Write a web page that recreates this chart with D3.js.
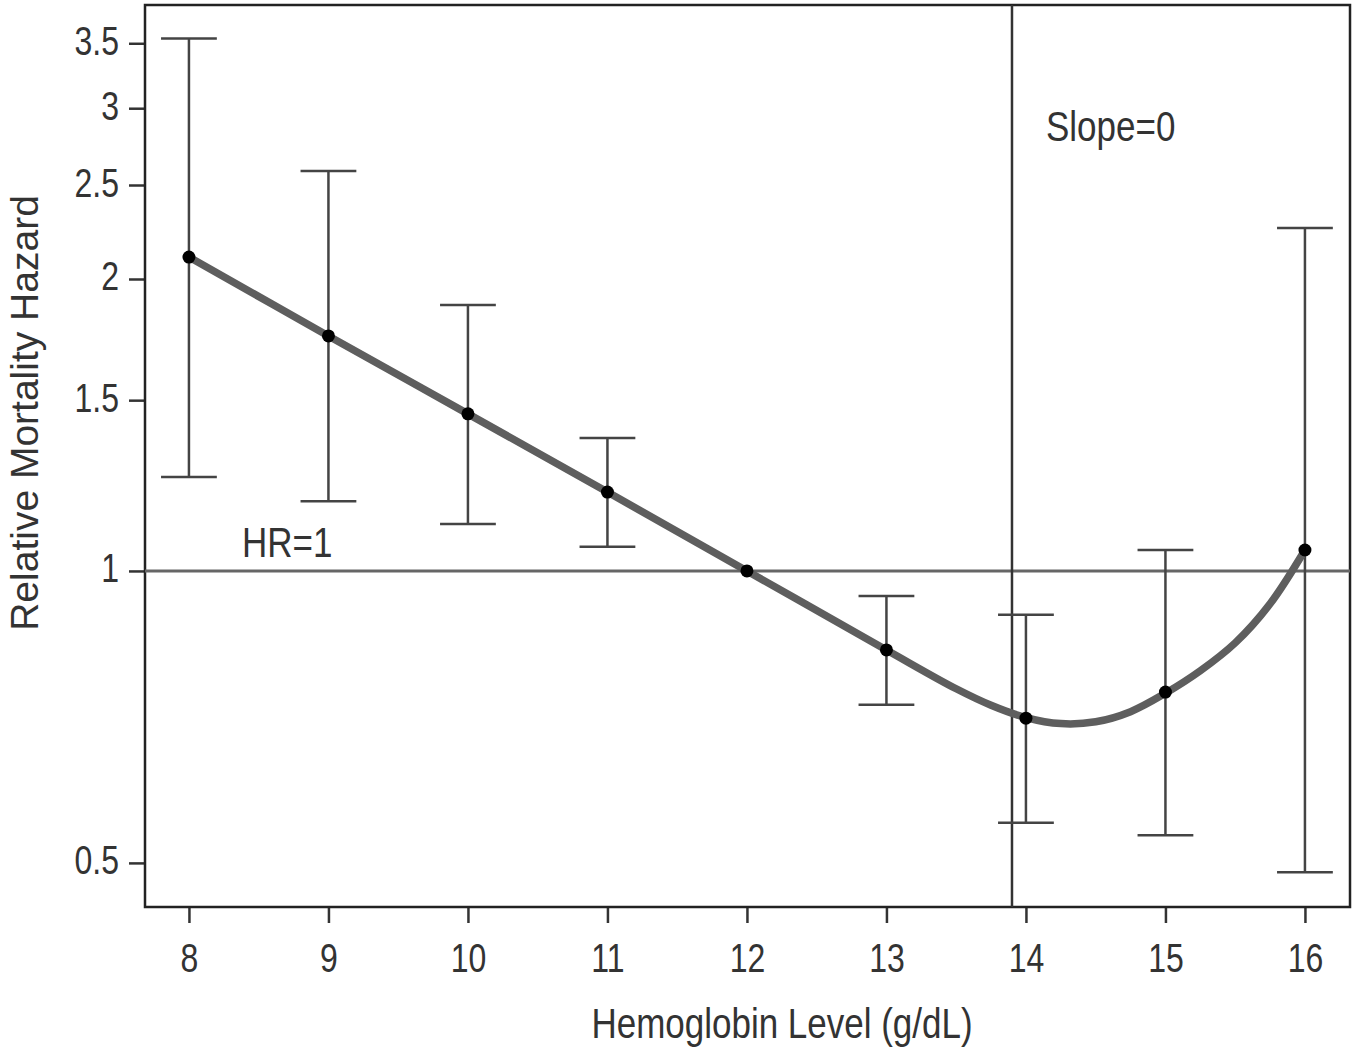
<!DOCTYPE html>
<html><head><meta charset="utf-8">
<script src="https://cdn.jsdelivr.net/npm/d3@7"></script>
<style>body{margin:0;background:#fff}svg{display:block}</style>
</head><body><svg id="c" width="1360" height="1049"></svg>
<script>
const hemoglobin = [8, 9, 10, 11, 12, 13, 14, 15, 16];
const hazard = [2.107, 1.747, 1.452, 1.206, 1.0, 0.829, 0.705, 0.750, 1.051];
const ciLow = [1.25, 1.18, 1.118, 1.059, 1.0, 0.728, 0.55, 0.534, 0.489];
const ciHigh = [3.54, 2.585, 1.88, 1.371, 1.0, 0.942, 0.901, 1.051, 2.258];
const curveX = [8, 9, 10, 11, 12, 13, 13.5, 13.75, 14, 14.25, 14.5, 14.75, 15, 15.25, 15.5, 15.75, 16];
const curveY = [2.107, 1.747, 1.452, 1.206, 1.0, 0.829, 0.756, 0.727, 0.706, 0.696, 0.699, 0.716, 0.748, 0.789, 0.843, 0.925, 1.051];
const xTicks = [8, 9, 10, 11, 12, 13, 14, 15, 16];
const yTicks = [0.5, 1, 1.5, 2, 2.5, 3, 3.5];
const slopeZeroAt = 13.9;
const refHR = 1;

const svg = d3.select("#c");
const L = 145, R = 1350, T = 5, B = 907;
const x = d3.scaleLinear().domain([7.685, 16.323]).range([L, R]);
const y = d3.scaleLog().domain([0.4503, 3.833]).range([B, T]);
const font = "'Liberation Sans', Arial, sans-serif";
const tc = "#333";

// axes
const xa = svg.append("g").attr("transform", `translate(0,${B})`)
  .call(d3.axisBottom(x).tickValues(xTicks).tickSize(16).tickSizeOuter(0).tickFormat(d3.format("d")));
const ya = svg.append("g").attr("transform", `translate(${L},0)`)
  .call(d3.axisLeft(y).tickValues(yTicks).tickSize(16).tickSizeOuter(0).tickFormat(d => String(d)));
[xa, ya].forEach(g => {
  g.select(".domain").remove();
  g.selectAll(".tick line").attr("stroke", "#333").attr("stroke-width", 2.5);
  g.selectAll(".tick text").attr("fill", tc).attr("font-family", font).attr("font-size", 32);
});
xa.selectAll(".tick text").attr("dy", 0).attr("y", 65 / 1.28).attr("transform", "scale(1,1.28)");
ya.selectAll(".tick text").attr("dy", 0).attr("x", -26).attr("y", 11 / 1.28).attr("transform", "scale(1,1.28)");

// frame
svg.append("rect").attr("x", L).attr("y", T).attr("width", R - L).attr("height", B - T)
  .attr("fill", "none").attr("stroke", "#222").attr("stroke-width", 2.5);

// HR=1 line
svg.append("line").attr("x1", L).attr("x2", R).attr("y1", y(refHR)).attr("y2", y(refHR))
  .attr("stroke", "#666").attr("stroke-width", 3);
// slope=0 vertical line
svg.append("line").attr("x1", x(slopeZeroAt)).attr("x2", x(slopeZeroAt)).attr("y1", T).attr("y2", B)
  .attr("stroke", "#333").attr("stroke-width", 2.5);

// error bars
const capHalf = 0.2;
const eb = svg.append("g").attr("stroke", "#444").attr("stroke-width", 2.5);
hemoglobin.forEach((h, i) => {
  if (ciLow[i] === ciHigh[i]) return;
  eb.append("line").attr("x1", x(h)).attr("x2", x(h)).attr("y1", y(ciLow[i])).attr("y2", y(ciHigh[i]));
  eb.append("line").attr("x1", x(h - capHalf)).attr("x2", x(h + capHalf)).attr("y1", y(ciLow[i])).attr("y2", y(ciLow[i]));
  eb.append("line").attr("x1", x(h - capHalf)).attr("x2", x(h + capHalf)).attr("y1", y(ciHigh[i])).attr("y2", y(ciHigh[i]));
});

// curve
const curvePts = curveX.map((v, i) => [v, curveY[i]]);
svg.append("path").datum(curvePts)
  .attr("d", d3.line().x(d => x(d[0])).y(d => y(d[1])).curve(d3.curveCatmullRom.alpha(0.5)))
  .attr("fill", "none").attr("stroke", "#5e5e5e").attr("stroke-width", 7.5).attr("stroke-linecap", "round");

// points
svg.append("g").selectAll("circle").data(hemoglobin).join("circle")
  .attr("cx", d => x(d)).attr("cy", (d, i) => y(hazard[i])).attr("r", 6.5).attr("fill", "#000");

// annotations
function label(txt, px, py, size, anchor, rot, sy) {
  const g = svg.append("g").attr("transform", `translate(${px},${py})` + (rot ? ` rotate(${rot})` : ""));
  g.append("text").attr("transform", `scale(1,${sy || 1.2})`).attr("text-anchor", anchor || "start")
    .attr("font-family", font).attr("font-size", size).attr("fill", tc).text(txt);
}
label("HR=1", 242, 557, 35, "start");
label("Slope=0", 1046, 141, 35, "start");
label("Hemoglobin Level (g/dL)", 782, 1038, 35, "middle");
label("Relative Mortality Hazard", 38, 413, 39, "middle", -90, 1.0);
</script></body></html>
